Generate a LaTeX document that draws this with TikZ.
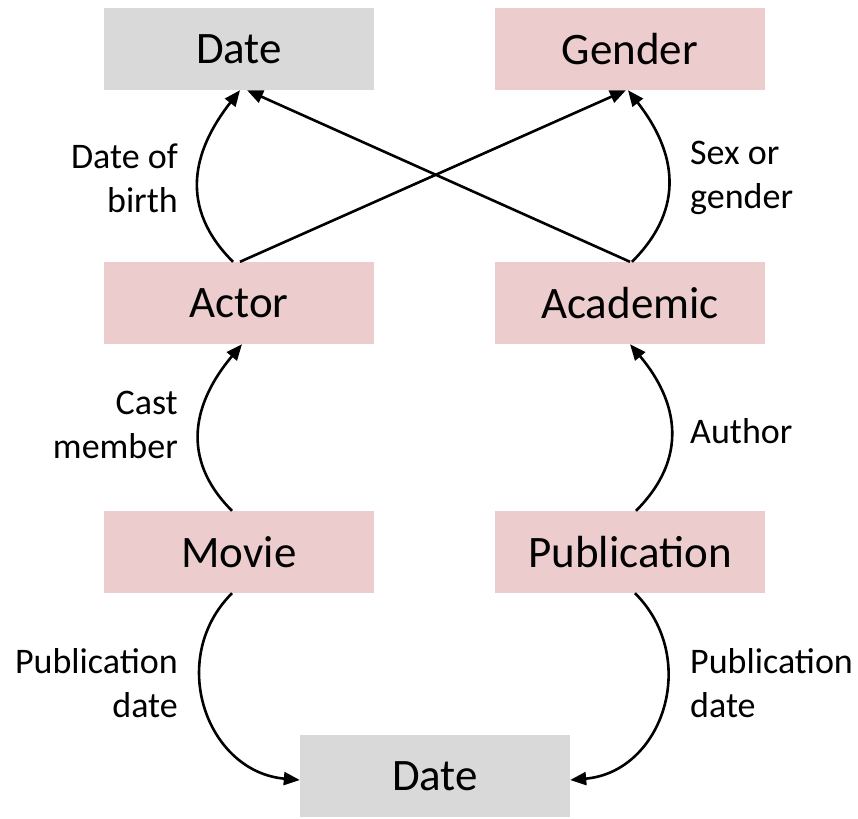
\documentclass[tikz,border=0pt]{standalone}
\usepackage{fontspec}
\setmainfont{Carlito}
\usetikzlibrary{arrows.meta}
\definecolor{pinkbox}{RGB}{236,204,204}
\definecolor{graybox}{RGB}{217,217,217}
\begin{document}
\begin{tikzpicture}[x=1pt,y=1pt,
 box/.style={minimum width=270pt,minimum height=82pt,inner sep=0pt,font=\fontsize{45}{52}\selectfont},
 ent/.style={box,fill=pinkbox},
 lit/.style={box,fill=graybox},
 lbl/.style={font=\fontsize{36}{44}\selectfont,inner sep=0pt},
 rel/.style={line width=2.6pt,-{Triangle[length=16pt,width=13pt]}}
]
\useasboundingbox (0,0) rectangle (858,-818);
\node[lit] (date1) at (239,-49) {Date};
\node[ent] (gender) at (630,-49) {Gender};
\node[ent] (actor) at (239,-303) {Actor};
\node[ent] (academic) at (630,-303) {Academic};
\node[ent] (movie) at (239,-552) {Movie};
\node[ent] (pub) at (630,-552) {Publication};
\node[lit] (date2) at (435,-776) {Date};

\node[lbl,anchor=east,align=right] (l1) at (178,-178) {Date of\\birth};
\node[lbl,anchor=west,align=left] (l2) at (690,-178) {Sex or\\gender};
\node[lbl,anchor=east,align=right] (l3) at (178,-425) {Cast\\member};
\node[lbl,anchor=west,align=left] (l4) at (690,-431) {Author};
\node[lbl,anchor=east,align=right] (l5) at (178,-683) {Publication\\date};
\node[lbl,anchor=west,align=left] (l6) at (690,-683) {Publication\\date};

\draw[rel] ([xshift=-6pt]actor.north) to[out=135,in=-128,looseness=1.15] ([xshift=1pt]date1.south);
\draw[rel] ([xshift=1pt]actor.north) -- ([xshift=-4pt]gender.south);
\draw[rel] ([xshift=0pt]academic.north) -- ([xshift=8pt]date1.south);
\draw[rel] ([xshift=2pt]academic.north) to[out=45,in=-52,looseness=1.15] ([xshift=-2pt]gender.south);
\draw[rel] ([xshift=-7pt]movie.north) to[out=135,in=-130,looseness=1.15] ([xshift=3pt]actor.south);
\draw[rel] ([xshift=6pt]pub.north) to[out=45,in=-50,looseness=1.15] ([xshift=0pt]academic.south);
\draw[rel] ([xshift=-7pt]movie.south) to[out=-135,in=175,looseness=1.2] ([yshift=-4pt]date2.west);
\draw[rel] ([xshift=5pt]pub.south) to[out=-45,in=5,looseness=1.2] ([yshift=-4pt]date2.east);
\end{tikzpicture}
\end{document}
